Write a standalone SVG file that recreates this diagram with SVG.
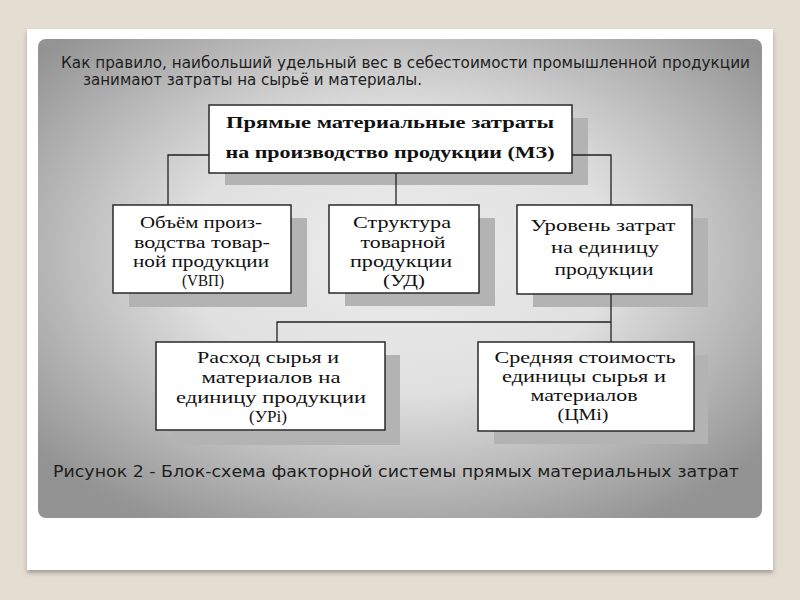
<svg xmlns="http://www.w3.org/2000/svg" width="800" height="600" viewBox="0 0 800 600">
<defs>
<radialGradient id="panel" cx="50%" cy="45%" r="65%">
<stop offset="0" stop-color="#ececec"/>
<stop offset="0.45" stop-color="#e0e0e0"/>
<stop offset="1" stop-color="#939393"/>
</radialGradient>
<filter id="cardShadow" x="-5%" y="-5%" width="110%" height="112%">
<feDropShadow dx="0" dy="3" stdDeviation="2" flood-color="#7a7468" flood-opacity="0.6"/>
</filter>
<style>
.box{fill:#ffffff;stroke:#2a2a2a;stroke-width:1.5}
.sh{fill:#b3b3b3}
.t{font-family:"Liberation Serif","Times New Roman",serif;font-size:16px;fill:#111;text-anchor:middle}
.tb{font-family:"Liberation Serif","Times New Roman",serif;font-size:17px;font-weight:bold;fill:#111;text-anchor:middle}
.s{font-family:"DejaVu Sans","Noto Sans",sans-serif;font-size:15px;fill:#1e1e1e}
.con{fill:none;stroke:#222;stroke-width:1.3}
</style>
</defs>
<rect x="0" y="0" width="800" height="600" fill="#e4ddd2"/>
<rect x="27" y="29" width="746" height="541" fill="#ffffff" filter="url(#cardShadow)"/>
<rect x="38" y="39" width="724" height="479" rx="8" fill="url(#panel)"/>
<g id="intro">
<text class="s" x="61" y="68" textLength="689" lengthAdjust="spacingAndGlyphs">Как правило, наибольший удельный вес в себестоимости промышленной продукции</text>
<text class="s" x="83" y="85" textLength="339" lengthAdjust="spacingAndGlyphs">занимают затраты на сырьё и материалы.</text>
</g>
<g id="node-mz">
<rect class="sh" x="225" y="118" width="363" height="67"/>
<rect class="box" x="209" y="105" width="363" height="68"/>
<text class="tb" x="390" y="128" textLength="328" lengthAdjust="spacingAndGlyphs">Прямые материальные затраты</text>
<text class="tb" x="390" y="158" textLength="329" lengthAdjust="spacingAndGlyphs">на производство продукции (МЗ)</text>
</g>
<g id="node-vvp">
<rect class="sh" x="129" y="218" width="178" height="89"/>
<rect class="box" x="113" y="205" width="178" height="88"/>
<text class="t" x="201" y="228" textLength="122" lengthAdjust="spacingAndGlyphs">Объём произ-</text>
<text class="t" x="202" y="248" textLength="136" lengthAdjust="spacingAndGlyphs">водства товар-</text>
<text class="t" x="201" y="267" textLength="136" lengthAdjust="spacingAndGlyphs">ной продукции</text>
<text class="t" x="203" y="286" textLength="42" lengthAdjust="spacingAndGlyphs">(VBП)</text>
</g>
<g id="node-ud">
<rect class="sh" x="345" y="218" width="150" height="88"/>
<rect class="box" x="329" y="205" width="150" height="88"/>
<text class="t" x="402" y="228" textLength="98" lengthAdjust="spacingAndGlyphs">Структура</text>
<text class="t" x="403" y="248" textLength="85" lengthAdjust="spacingAndGlyphs">товарной</text>
<text class="t" x="401" y="267" textLength="102" lengthAdjust="spacingAndGlyphs">продукции</text>
<text class="t" x="404" y="286" textLength="42" lengthAdjust="spacingAndGlyphs">(УД)</text>
</g>
<g id="node-level">
<rect class="sh" x="533" y="218" width="175" height="89"/>
<rect class="box" x="517" y="205" width="175" height="89"/>
<text class="t" x="603" y="231" textLength="145" lengthAdjust="spacingAndGlyphs">Уровень затрат</text>
<text class="t" x="605" y="253" textLength="108" lengthAdjust="spacingAndGlyphs">на единицу</text>
<text class="t" x="604" y="275" textLength="99" lengthAdjust="spacingAndGlyphs">продукции</text>
</g>
<g id="node-upi">
<rect class="sh" x="172" y="355" width="228" height="90"/>
<rect class="box" x="156" y="342" width="229" height="88"/>
<text class="t" x="268" y="363" textLength="142" lengthAdjust="spacingAndGlyphs">Расход сырья и</text>
<text class="t" x="271" y="383" textLength="139" lengthAdjust="spacingAndGlyphs">материалов на</text>
<text class="t" x="271" y="403" textLength="190" lengthAdjust="spacingAndGlyphs">единицу продукции</text>
<text class="t" x="268" y="422" textLength="38" lengthAdjust="spacingAndGlyphs">(УРi)</text>
</g>
<g id="node-tsmi">
<rect class="sh" x="494" y="355" width="214" height="89"/>
<rect class="box" x="478" y="342" width="216" height="89"/>
<text class="t" x="585" y="363" textLength="181" lengthAdjust="spacingAndGlyphs">Средняя стоимость</text>
<text class="t" x="584" y="382" textLength="164" lengthAdjust="spacingAndGlyphs">единицы сырья и</text>
<text class="t" x="584" y="401" textLength="107" lengthAdjust="spacingAndGlyphs">материалов</text>
<text class="t" x="583" y="420" textLength="51" lengthAdjust="spacingAndGlyphs">(ЦМi)</text>
</g>
<g id="connectors">
<path class="con" d="M209,155 H168 V205"/>
<path class="con" d="M572,155 H611 V205"/>
<path class="con" d="M396,173 V205"/>
<path class="con" d="M611,294 V342"/>
<path class="con" d="M611,322 H277 V342"/>
</g>
<g id="caption">
<text class="s" x="53" y="477" textLength="686" lengthAdjust="spacingAndGlyphs" style="font-size:16px">Рисунок 2 - Блок-схема факторной системы прямых материальных затрат</text>
</g>
</svg>
